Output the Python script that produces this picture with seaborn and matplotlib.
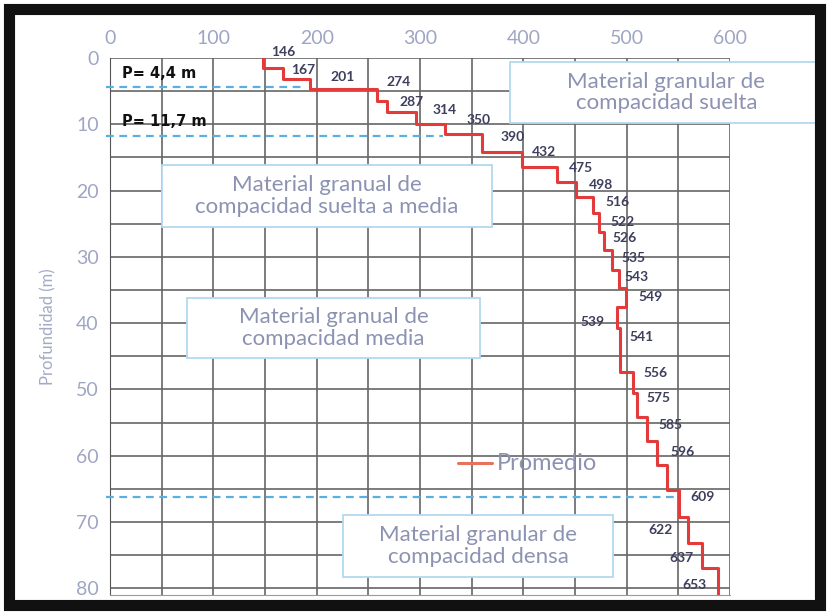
import numpy as np
import pandas as pd
import matplotlib
matplotlib.use("Agg")
import matplotlib.pyplot as plt
import seaborn as sns
from matplotlib.patches import Rectangle

# layers of the averaged profile (depth of layer top in m, velocity as drawn)
layer_top = [0, 1.5, 3.2, 4.7, 6.5, 8.1, 10.0, 11.4, 14.2, 16.4, 18.7, 21.0, 23.4, 26.2,
             29.0, 32.0, 34.7, 37.6, 40.8, 47.4, 50.6, 54.2, 57.7, 61.4, 65.2, 69.3, 73.1, 77.0]
layer_vs = [148, 167, 194, 258, 268, 296, 324, 360, 399, 433, 451, 467, 473, 478,
            486, 493, 499, 491, 494, 506, 510, 520, 529, 539, 551, 559, 573, 588]
max_depth = 81

# printed values next to the profile
vs_labels = [146, 167, 201, 274, 287, 314, 350, 390, 432, 475, 498, 516, 522, 526,
             535, 543, 549, 539, 541, 556, 575, 585, 596, 609, 622, 637, 653]
label_x = [168, 187, 225, 279, 292, 324, 357, 390, 420, 456, 475, 491, 496, 498,
           507, 510, 523, 467, 514, 528, 531, 542, 554, 573, 533, 553, 566]
label_depth = [-0.9, 1.8, 2.9, 3.6, 6.6, 7.8, 9.4, 11.9, 14.2, 16.6, 19.2, 21.7, 24.7, 27.2,
               30.2, 33.0, 36.0, 39.8, 42.1, 47.5, 51.3, 55.4, 59.4, 66.2, 71.2, 75.4, 79.5]

# boundaries between materials (dashed)
bound_depth = [4.4, 11.7, 66.2]
bound_end = [186, 322, 551]
bound_text = ["P= 4,4 m", "P= 11,7 m", ""]

zone_text = ["Material granular de\ncompacidad suelta",
             "Material granual de\ncompacidad suelta a media",
             "Material granual de\ncompacidad media",
             "Material granular de\ncompacidad densa"]
zone_box = [(387, 690, 0.6, 9.8), (50, 370, 16.1, 25.5), (74.5, 358, 36.2, 45.2), (225.5, 487, 68.9, 78.3)]

# step path
xs, ys = [], []
bottoms = layer_top[1:] + [max_depth]
for v, t, b in zip(layer_vs, layer_top, bottoms):
    xs += [v, v]
    ys += [t, b]
df = pd.DataFrame({"vs": xs, "depth": ys})

sns.set_style("white")
plt.rcParams['font.family'] = ['Lato', 'DejaVu Sans']

fig = plt.figure(figsize=(8.29, 6.14), dpi=100)
ax = fig.add_axes([110 / 829, 1 - 595 / 614, 620 / 829, 537 / 614])

sns.lineplot(data=df, x="vs", y="depth", sort=False, estimator=None, color="#e33b3b",
             linewidth=2.2, ax=ax, zorder=4)

ax.set_xlim(0, 600)
ax.set_ylim(max_depth, 0)
ax.xaxis.tick_top()
ax.set_xticks(np.arange(0, 601, 100))
ax.set_xticks(np.arange(0, 601, 50), minor=True)
ax.set_yticks(np.arange(0, 81, 10))
ax.set_yticks(np.arange(0, 81, 5), minor=True)
ax.grid(which="both", color="#666666", linewidth=1.2)
ax.tick_params(which="both", length=0, labelsize=14, labelcolor="#9ea6c4", pad=8)
ax.set_xlabel("")
ax.set_ylabel("Profundidad (m)", fontsize=12, color="#a3abc6", labelpad=14)
for s in ["top", "right"]:
    ax.spines[s].set_visible(False)
ax.spines["left"].set_color("#555555")
ax.spines["bottom"].set_color("#9a9a9a")

# dashed boundaries
for d, e, t in zip(bound_depth, bound_end, bound_text):
    ax.plot([-4, e], [d, d], ls=(0, (3.5, 2.5)), color="#5aaee2", lw=1.6, zorder=3, clip_on=False)
    if t:
        ax.text(11.6, d - 2.1, t, fontsize=10.5, fontweight="bold", color="#111111",
                family="DejaVu Sans", va="center", ha="left", zorder=5)

# zone boxes
for (x0, x1, d0, d1), t in zip(zone_box, zone_text):
    ax.add_patch(Rectangle((x0, d0), x1 - x0, d1 - d0, facecolor="white", edgecolor="#b3d9f0",
                           lw=1.3, zorder=5, clip_on=False))
    ax.text((x0 + x1) / 2, (d0 + d1) / 2, t, fontsize=16, color="#8c92b2", ha="center",
            va="center", linespacing=1.1, zorder=6)

# value labels
for v, x, d in zip(vs_labels, label_x, label_depth):
    ax.text(x, d, str(v), fontsize=10, fontweight="bold", color="#3d3f5c", ha="center",
            va="center", zorder=6, clip_on=False)

# legend
ax.plot([337, 370], [61.1, 61.1], color="#e8705e", lw=2.2, zorder=6)
ax.text(374.5, 61.1, "Promedio", fontsize=17, color="#8c92b2", va="center", ha="left", zorder=6)

# outer frame of the picture
fig.patches.append(Rectangle((9 / 829, 9 / 614), 811 / 829, 596 / 614, transform=fig.transFigure,
                             fill=False, edgecolor="#111111", lw=8, zorder=10))

fig.savefig("out.png", dpi=100)
